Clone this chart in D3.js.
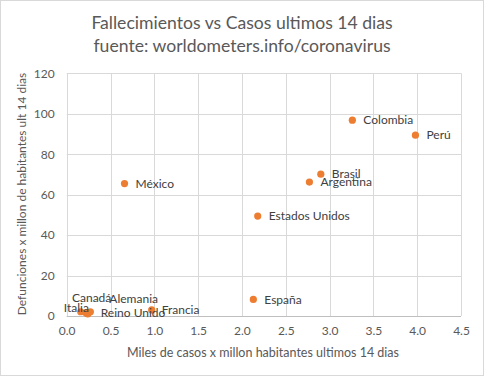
<!DOCTYPE html>
<html>
<head>
<meta charset="utf-8">
<script src="https://cdn.jsdelivr.net/npm/d3@7"></script>
<style>
  body { margin: 0; background: #fff; }
  text { font-family: Lato, "Open Sans", sans-serif; }
</style>
</head>
<body>
<div id="vizcontainer"></div>
<script>
// data
const countries = ['Colombia', 'Perú', 'Brasil', 'Argentina', 'Estados Unidos', 'México',
  'España', 'Francia', 'Italia', 'Reino Unido', 'Canadá', 'Alemania'];
const casos = [3.26, 3.98, 2.90, 2.77, 2.18, 0.66, 2.13, 0.97, 0.16, 0.24, 0.22, 0.27];
const muertes = [96.8, 89.4, 70.1, 66.2, 49.4, 65.5, 8.2, 3.0, 2.1, 1.0, 1.6, 2.1];
const xTicks = [0, 0.5, 1, 1.5, 2, 2.5, 3, 3.5, 4, 4.5];
const yTicks = [0, 20, 40, 60, 80, 100, 120];

// manually moved labels (offset from the point)
const labelShift = {
  'Italia': [-17, -4],
  'Canadá': [-14, -15],
  'Alemania': [19, -13],
  'Reino Unido': [13, -1],
  'Francia': [10, 0]
};

const
  width = 484,
  height = 376;

let viz = d3.select('#vizcontainer')
  .append('svg')
  .attr('width', width)
  .attr('height', height);

viz.append('rect')
  .attr('x', 0.5).attr('y', 0.5)
  .attr('width', width - 1).attr('height', height - 1)
  .attr('fill', '#fff')
  .attr('stroke', '#d9d9d9');

const x = d3.scaleLinear().domain([0, 4.5]).range([66.7, 461]);
const y = d3.scaleLinear().domain([0, 120]).range([316, 73.3]);

// title
viz.append('text')
  .attr('x', 242).attr('y', 29)
  .attr('text-anchor', 'middle')
  .attr('font-size', 17.6)
  .attr('fill', '#595959')
  .text('Fallecimientos vs Casos ultimos 14 dias');
viz.append('text')
  .attr('x', 242).attr('y', 52)
  .attr('text-anchor', 'middle')
  .attr('font-size', 17.6)
  .attr('fill', '#595959')
  .text('fuente: worldometers.info/coronavirus');

// grid
viz.append('g')
  .selectAll('line')
  .data(xTicks)
  .join('line')
  .attr('x1', d => Math.round(x(d)) + 0.5).attr('x2', d => Math.round(x(d)) + 0.5)
  .attr('y1', y(120)).attr('y2', y(0))
  .attr('stroke', '#d9d9d9');
viz.append('g')
  .selectAll('line')
  .data(yTicks)
  .join('line')
  .attr('x1', x(0)).attr('x2', x(4.5))
  .attr('y1', d => Math.round(y(d)) + 0.5).attr('y2', d => Math.round(y(d)) + 0.5)
  .attr('stroke', d => d === 0 ? '#bfbfbf' : '#d9d9d9');

// axes
const xAxis = viz.append('g')
  .attr('transform', `translate(0,${y(0)})`)
  .call(d3.axisBottom(x).tickValues(xTicks).tickFormat(d3.format('.1f')).tickSize(0).tickPadding(10));
const yAxis = viz.append('g')
  .attr('transform', `translate(${x(0)},0)`)
  .call(d3.axisLeft(y).tickValues(yTicks).tickSize(0).tickPadding(12));
[xAxis, yAxis].forEach(a => {
  a.select('.domain').remove();
  a.selectAll('text')
    .attr('font-family', 'Lato, sans-serif')
    .attr('font-size', 12)
    .attr('fill', '#595959');
});

viz.append('text')
  .attr('x', 263).attr('y', 357)
  .attr('text-anchor', 'middle')
  .attr('font-size', 12.5)
  .attr('fill', '#595959')
  .text('Miles de casos x millon habitantes ultimos 14 dias');
viz.append('text')
  .attr('transform', 'translate(26,194) rotate(-90)')
  .attr('text-anchor', 'middle')
  .attr('font-size', 12)
  .attr('fill', '#595959')
  .text('Defunciones x millon de habitantes ult 14 dias');

// points
const pts = countries.map((c, i) => ({ name: c, x: casos[i], y: muertes[i] }));

viz.append('g')
  .selectAll('circle')
  .data(pts)
  .join('circle')
  .attr('cx', d => x(d.x))
  .attr('cy', d => y(d.y))
  .attr('r', 3.6)
  .attr('fill', '#ed7d31');

viz.append('g')
  .selectAll('text')
  .data(pts)
  .join('text')
  .attr('x', d => x(d.x) + (labelShift[d.name] ? labelShift[d.name][0] : 11))
  .attr('y', d => y(d.y) + (labelShift[d.name] ? labelShift[d.name][1] : 0))
  .attr('dy', '0.35em')
  .attr('font-size', 12)
  .attr('fill', '#404040')
  .text(d => d.name);
</script>
</body>
</html>
